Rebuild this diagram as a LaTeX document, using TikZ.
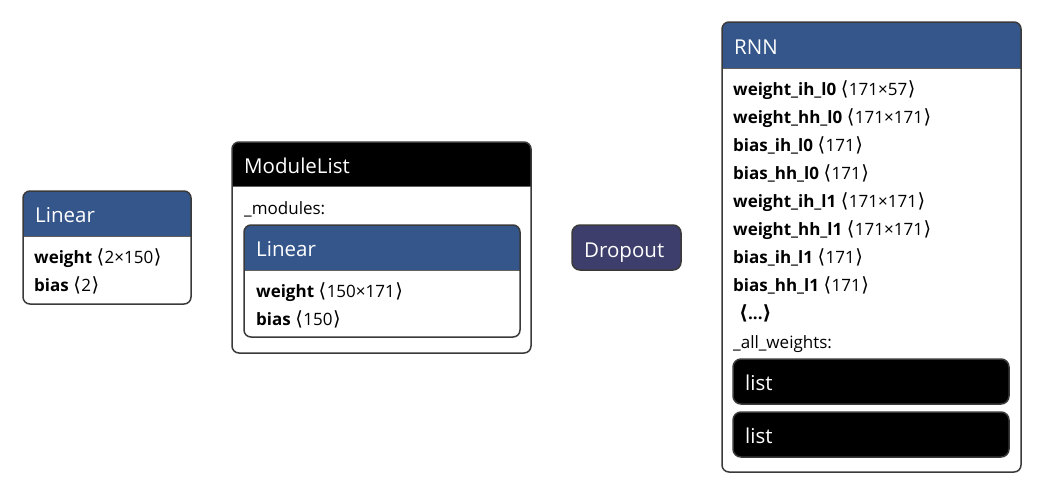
\documentclass[tikz,border=0pt]{standalone}
\usepackage{fontspec}
\setmainfont{Open Sans}
\newfontfamily\symf{DejaVu Sans}
\definecolor{hdrblue}{RGB}{52,86,139}
\definecolor{dropc}{RGB}{62,62,108}
\definecolor{framec}{RGB}{58,58,58}
\newcommand\lang{{\symf\fontsize{19.5}{20}\selectfont\char"27E8}}
\newcommand\rang{{\symf\fontsize{19.5}{20}\selectfont\char"27E9}}
\newcommand\ang[1]{\hspace{4.5pt}\lang\hspace{0.5pt}#1\hspace{0.5pt}\rang}
\newcommand\hfont{\fontsize{20.5}{24}\selectfont}
\newcommand\rfont{\fontsize{17}{20}\selectfont}
\newcommand\ubox[7]{%
  \begin{scope}
    \clip[rounded corners=7] (#2,#3) rectangle (#4,#5);
    \fill[#7] (#2,#3) rectangle (#4,#6);
  \end{scope}
  \draw[sepline] (#2,#6) -- (#4,#6);
  \draw[frame] (#2,#3) rectangle (#4,#5);
  \coordinate (#1) at ($(#2,#3)!0.5!(#4,#5)$);
}
\usetikzlibrary{calc}
\begin{document}
\begin{tikzpicture}[x=1pt,y=-1pt,
  frame/.style={draw=framec,line width=1.5pt,rounded corners=7},
  sepline/.style={draw=framec!80,line width=1pt},
  htext/.style={anchor=base west,inner sep=0pt,text=white,font=\hfont},
  rtext/.style={anchor=base west,inner sep=0pt,text=black,font=\rfont},
  pill/.style={draw=framec,line width=1.5pt,rounded corners=8}]
\useasboundingbox[fill=white] (0,0) rectangle (1046,496);

% Linear (left)
\ubox{linA}{23}{191}{191}{304}{236}{hdrblue}
\node[htext] (linAt) at (35,222) {Linear};
\node[rtext] (linAw) at (34,263) {\textbf{weight}\ang{2×150}};
\node[rtext] (linAb) at (34,291) {\textbf{bias}\ang{2}};

% ModuleList
\ubox{ml}{232}{142}{531}{353}{186}{black}
\node[htext] (mlt) at (244,173) {ModuleList};
\node[rtext] (mlm) at (244,214) {\_modules:};
\ubox{linB}{244}{225}{520}{337}{270}{hdrblue}
\node[htext] (linBt) at (256,256) {Linear};
\node[rtext] (linBw) at (256,297) {\textbf{weight}\ang{150×171}};
\node[rtext] (linBb) at (256,325) {\textbf{bias}\ang{150}};

% Dropout
\draw[pill,fill=dropc] (572,225) rectangle (681,270);
\coordinate (drop) at (626.5,247.5);
\node[htext] (dropt) at (584,257) {Dropout};

% RNN
\ubox{rnn}{722}{22}{1021}{472}{68}{hdrblue}
\node[htext] (rnnt) at (734,54) {RNN};
\node[rtext] (r1) at (733,95) {\textbf{weight\_ih\_l0}\ang{171×57}};
\node[rtext] (r2) at (733,123) {\textbf{weight\_hh\_l0}\ang{171×171}};
\node[rtext] (r3) at (733,151) {\textbf{bias\_ih\_l0}\ang{171}};
\node[rtext] (r4) at (733,179) {\textbf{bias\_hh\_l0}\ang{171}};
\node[rtext] (r5) at (733,207) {\textbf{weight\_ih\_l1}\ang{171×171}};
\node[rtext] (r6) at (733,235) {\textbf{weight\_hh\_l1}\ang{171×171}};
\node[rtext] (r7) at (733,263) {\textbf{bias\_ih\_l1}\ang{171}};
\node[rtext] (r8) at (733,291) {\textbf{bias\_hh\_l1}\ang{171}};
\node[rtext] (r9) at (739,319) {\textbf{\lang...\rang}};
\node[rtext] (raw) at (733,348) {\_all\_weights:};
\draw[pill,fill=black] (733,359) rectangle (1009,404);
\coordinate (listA) at (871,381.5);
\node[htext] (listAt) at (745,390) {list};
\draw[pill,fill=black] (733,412) rectangle (1009,457);
\coordinate (listB) at (871,434.5);
\node[htext] (listBt) at (745,443) {list};
\end{tikzpicture}
\end{document}
